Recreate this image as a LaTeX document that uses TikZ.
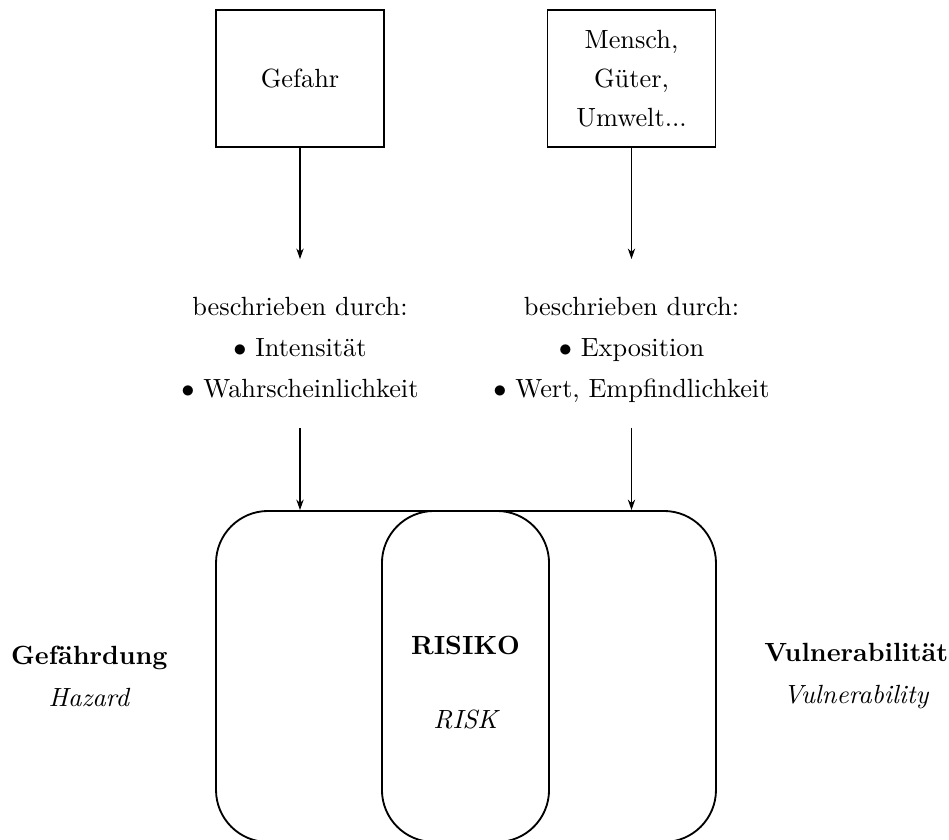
\documentclass[tikz,border=0pt]{standalone}
\usepackage{amsmath,amssymb}
\usetikzlibrary{positioning,arrows.meta}

\begin{document}
\begin{tikzpicture}[x=0.38pt,y=-0.38pt,
    topbox/.style={draw,line width=0.7pt,minimum width=63.8pt,minimum height=52pt,align=center},
    roundbox/.style={draw,line width=0.7pt,rounded corners=19.8pt,minimum height=125.8pt},
    arr/.style={-{Stealth[length=4pt,width=2.8pt]},line width=0.4pt},
    desc/.style={align=center,text depth=0pt}]
    \useasboundingbox (0,0) rectangle (949,840);

    % Top boxes
    \node[topbox] (gefahr) at (300,78.5) {Gefahr};
    \node[topbox] (mensch) at (631.5,78.5) {Mensch,\\[2.8pt] Güter,\\[2.8pt] Umwelt...};

    % Descriptions
    \node[desc] (gdesc) at (300,347) {beschrieben durch:\\[3.6pt] $\bullet$ Intensität\\[3.6pt] $\bullet$ Wahrscheinlichkeit};
    \node[desc] (mdesc) at (631.5,347) {beschrieben durch:\\[3.6pt] $\bullet$ Exposition\\[3.6pt] $\bullet$ Wert, Empfindlichkeit};

    % Risk shapes
    \node[roundbox,minimum width=190pt] (outer) at (466,676.5) {};
    \node[roundbox,minimum width=63.5pt] (risikobox) at (465.5,676.5) {};
    \node[font=\bfseries] (risiko) at (465.5,645) {RISIKO};
    \node[font=\itshape] (risk) at (465.5,720) {RISK};

    % Side labels
    \node[left=14.5pt of outer,align=center] (gefaehrdung) {\textbf{Gefährdung}\\[4pt]\textit{Hazard}};
    \node[right=14.5pt of outer,align=center] (vulner) {\textbf{Vulnerabilität}\\[4pt]\textit{Vulnerability}};

    % Arrows
    \coordinate (g1) at (300,259);
    \coordinate (g2) at (300,428);
    \coordinate (m1) at (631.5,259);
    \coordinate (m2) at (631.5,428);
    \draw[arr] (gefahr) -- (g1);
    \draw[arr] (mensch) -- (m1);
    \draw[arr] (g2) -- (g2 |- outer.north);
    \draw[arr] (m2) -- (m2 |- outer.north);
\end{tikzpicture}
\end{document}
